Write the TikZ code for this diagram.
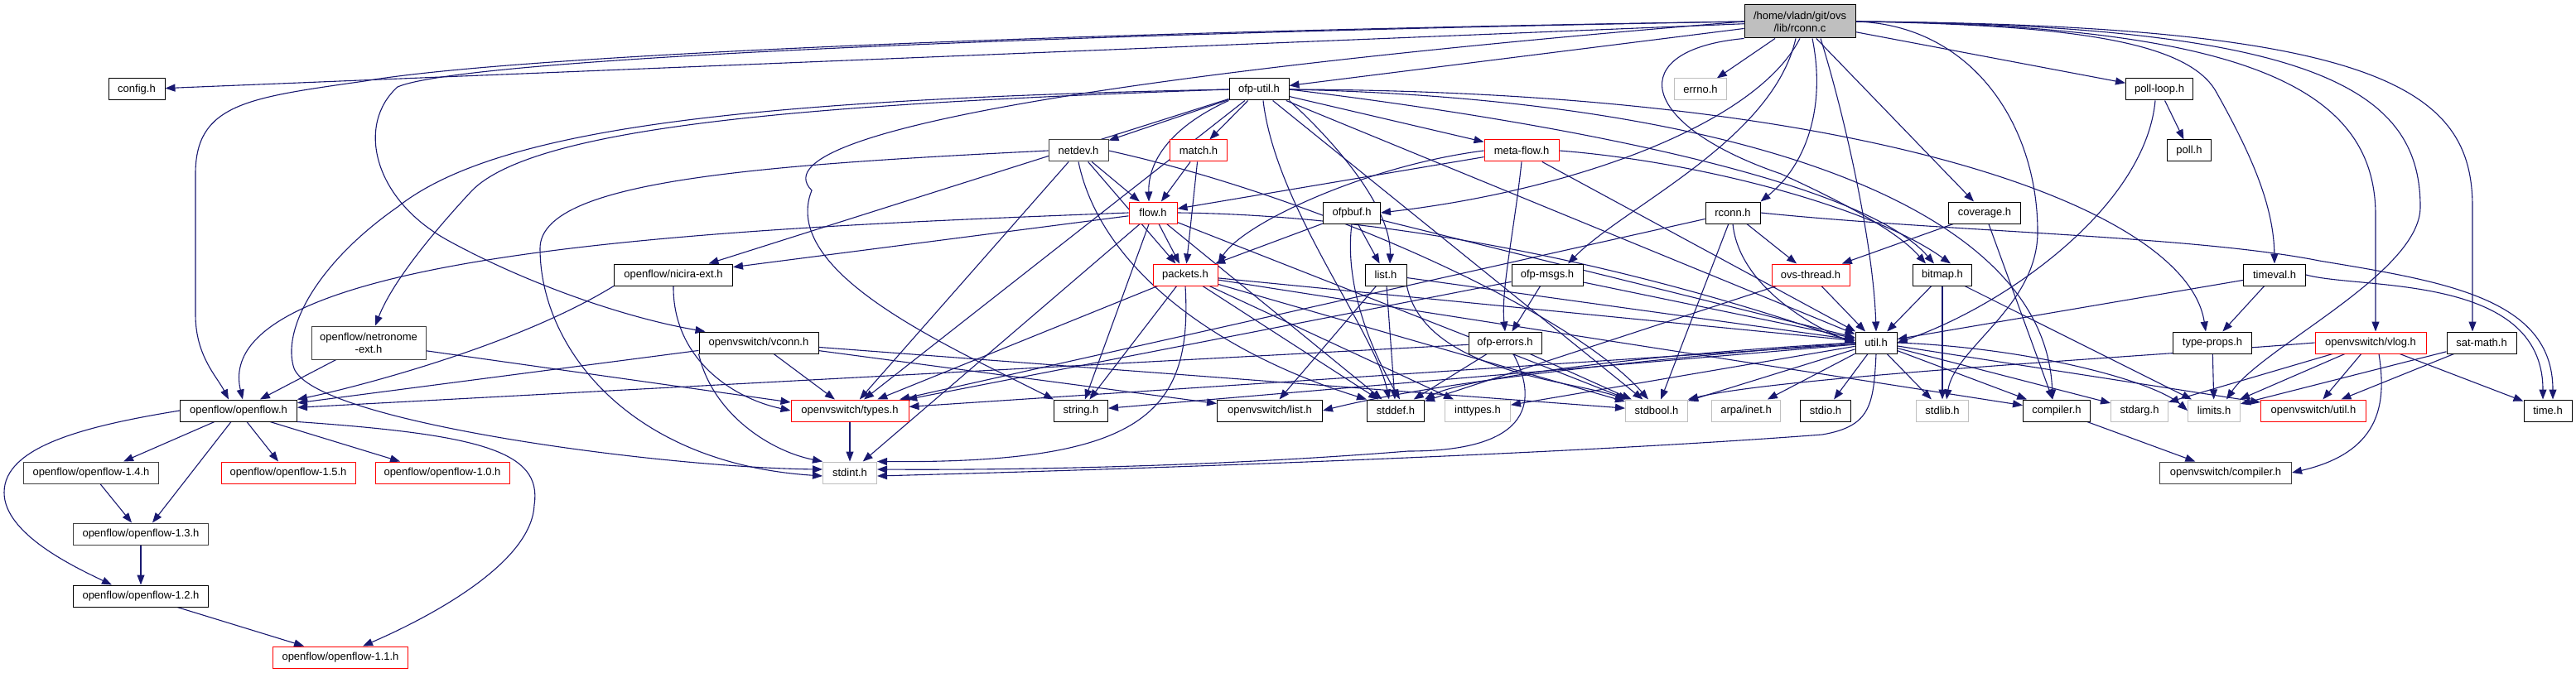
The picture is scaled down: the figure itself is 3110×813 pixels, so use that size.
\documentclass[tikz,border=0pt]{standalone}
\usepackage{fontspec}
\setmainfont{Liberation Sans}
\usetikzlibrary{arrows.meta}
\definecolor{edgec}{HTML}{191970}
\definecolor{graybd}{HTML}{BFBFBF}
\definecolor{darkbd}{HTML}{404040}
\definecolor{rootfill}{HTML}{BFBFBF}
\pgfdeclarelayer{edgelayer}
\pgfsetlayers{edgelayer,main}
\newcommand\nodefont{\fontsize{13}{15}\selectfont}
\tikzset{
 hbase/.style={rectangle, line width=1.0pt, fill=white, minimum height=26pt, inner sep=0pt, font=\nodefont, align=center, text=black},
 hb/.style={hbase, draw=black},
 hg/.style={hbase, draw=graybd},
 hr/.style={hbase, draw=red},
 hd/.style={hbase, draw=darkbd},
 mw/.style={minimum width=#1pt},
 dep/.style={draw=edgec, line width=1.1pt, -{Triangle[length=12pt,width=9pt]}},
}
\begin{document}
\begin{tikzpicture}[x=1pt,y=-1pt]
\useasboundingbox (0,0) rectangle (3110,813);
% nodes
\node[hb, fill=rootfill, mw=134, minimum height=40pt] (root) at (2173,26) {/home/vladn/git/ovs\\/lib/rconn.c};
\node[hb, mw=68] (config) at (165,108) {config.h};
\node[hb, mw=72] (ofputil) at (1520,108) {ofp-util.h};
\node[hg, mw=63] (errno) at (2053,108) {errno.h};
\node[hb, mw=81] (pollloop) at (2607,108) {poll-loop.h};
\node[hd, mw=72] (netdev) at (1302,182) {netdev.h};
\node[hr, mw=69] (match) at (1447,182) {match.h};
\node[hr, mw=90] (metaflow) at (1837,182) {meta-flow.h};
\node[hb, mw=53] (poll) at (2643,182) {poll.h};
\node[hr, mw=58] (flow) at (1392,257) {flow.h};
\node[hb, mw=69] (ofpbuf) at (1632,257) {ofpbuf.h};
\node[hb, mw=66] (rconnh) at (2092,257) {rconn.h};
\node[hb, mw=87] (coverage) at (2396,257) {coverage.h};
\node[hb, mw=143] (nicira) at (813,332) {openflow/nicira-ext.h};
\node[hr, mw=78] (packets) at (1431,332) {packets.h};
\node[hb, mw=50] (list) at (1673,332) {list.h};
\node[hb, mw=86] (ofpmsgs) at (1868,332) {ofp-msgs.h};
\node[hr, mw=94] (ovsthread) at (2186,332) {ovs-thread.h};
\node[hb, mw=71] (bitmap) at (2345,332) {bitmap.h};
\node[hb, mw=75] (timeval) at (2746,332) {timeval.h};
\node[hd, mw=138, minimum height=40pt] (netronome) at (445,414) {openflow/netronome\\-ext.h};
\node[hb, mw=144] (vconn) at (916,414) {openvswitch/vconn.h};
\node[hb, mw=88] (ofperrors) at (1817,414) {ofp-errors.h};
\node[hb, mw=50] (util) at (2265,414) {util.h};
\node[hb, mw=95] (typeprops) at (2671,414) {type-props.h};
\node[hr, mw=134] (vlog) at (2862,414) {openvswitch/vlog.h};
\node[hb, mw=84] (satmath) at (2996,414) {sat-math.h};
\node[hb, mw=141] (openflow) at (288,496) {openflow/openflow.h};
\node[hr, mw=142] (types) at (1026,496) {openvswitch/types.h};
\node[hb, mw=65] (string) at (1305,496) {string.h};
\node[hb, mw=127] (ovslist) at (1533,496) {openvswitch/list.h};
\node[hb, mw=69] (stddef) at (1685,496) {stddef.h};
\node[hg, mw=79] (inttypes) at (1784,496) {inttypes.h};
\node[hg, mw=75] (stdbool) at (2000,496) {stdbool.h};
\node[hg, mw=83] (arpa) at (2108,496) {arpa/inet.h};
\node[hb, mw=61] (stdio) at (2204,496) {stdio.h};
\node[hg, mw=63] (stdlib) at (2345,496) {stdlib.h};
\node[hb, mw=81] (compiler) at (2483,496) {compiler.h};
\node[hg, mw=69] (stdarg) at (2583,496) {stdarg.h};
\node[hg, mw=63] (limits) at (2673,496) {limits.h};
\node[hr, mw=127] (ovsutil) at (2793,496) {openvswitch/util.h};
\node[hb, mw=58] (time) at (3076,496) {time.h};
\node[hd, mw=163] (of14) at (110,571) {openflow/openflow-1.4.h};
\node[hr, mw=162] (of15) at (348,571) {openflow/openflow-1.5.h};
\node[hr, mw=162] (of10) at (534,571) {openflow/openflow-1.0.h};
\node[hg, mw=65] (stdint) at (1026,571) {stdint.h};
\node[hd, mw=159] (ovscompiler) at (2687,571) {openvswitch/compiler.h};
\node[hd, mw=163] (of13) at (170,645) {openflow/openflow-1.3.h};
\node[hb, mw=163] (of12) at (170,720) {openflow/openflow-1.2.h};
\node[hr, mw=163] (of11) at (411,794) {openflow/openflow-1.1.h};

\begin{pgfonlayer}{edgelayer}
% root
\draw[dep] (root) -- (config);
\draw[dep] (root) -- (ofputil);
\draw[dep] (root) -- (errno);
\draw[dep] (root) -- (pollloop);
\draw[dep] (root) -- (coverage);
\draw[dep] (root.west) .. controls (1200,40) and (600,70) .. (440,98) .. controls (300,118) and (236,125) .. (236,210) -- (236,380) .. controls (236,430) and (262,455) .. ([xshift=-12pt]openflow.north);
\draw[dep] (root.west) .. controls (1300,40) and (560,70) .. (480,105) .. controls (430,150) and (450,240) .. (540,290) .. controls (640,345) and (760,385) .. ([xshift=8pt]vconn.north west);
\draw[dep] (root.west) .. controls (1500,75) and (900,150) .. (980,230) .. controls (940,330) and (1150,420) .. (string.north west);
\draw[dep] (root.south) .. controls (2120,150) and (1900,230) .. (ofpbuf.east);
\draw[dep] ([xshift=-5pt]root.south) .. controls (2140,170) and (1960,250) .. ([xshift=25pt]ofpmsgs.north);
\draw[dep] ([xshift=15pt]root.south) .. controls (2205,130) and (2180,200) .. (rconnh.north east);
\draw[dep] ([xshift=25pt]root.south) .. controls (2230,150) and (2262,300) .. (util.north);
\draw[dep] (root.south west) .. controls (1960,60) and (1975,150) .. (2150,210) .. controls (2260,260) and (2300,290) .. ([xshift=-20pt]bitmap.north);
\draw[dep] (root.east) .. controls (2500,30) and (2640,50) .. (2675,110) .. controls (2720,190) and (2745,250) .. (timeval.north);
\draw[dep] (root.east) .. controls (2720,30) and (2868,110) .. (2868,260) -- ([xshift=6pt]vlog.north);
\draw[dep] (root.east) .. controls (2800,30) and (2922,110) .. (2922,250) .. controls (2922,330) and (2730,420) .. ([xshift=15pt]limits.north);
\draw[dep] (root.east) .. controls (2880,30) and (2985,110) .. (2985,250) -- ([xshift=-11pt]satmath.north);
\draw[dep] (root.east) .. controls (2380,30) and (2460,150) .. (2460,280) .. controls (2460,370) and (2360,420) .. ([xshift=5pt]stdlib.north);
% poll-loop
\draw[dep] (pollloop) -- (poll);
\draw[dep] ([xshift=-5pt]pollloop.south) .. controls (2590,250) and (2420,370) .. (util.east);
% ofp-util
\draw[dep] (ofputil) -- (netdev);
\draw[dep] (ofputil) -- (match);
\draw[dep] (ofputil) -- (metaflow);
\draw[dep] (ofputil) -- (nicira);
\draw[dep] (ofputil) -- (types);
\draw[dep] (ofputil) -- (stdbool);
\draw[dep] (ofputil) -- (util);
\draw[dep] (ofputil.south west) .. controls (1420,150) and (1386,190) .. ([xshift=-5pt]flow.north);
\draw[dep] (ofputil.south east) .. controls (1610,170) and (1680,250) .. ([xshift=5pt]list.north);
\draw[dep] ([xshift=5pt]ofputil.south) .. controls (1540,250) and (1660,400) .. ([xshift=-8pt]stddef.north);
\draw[dep] (ofputil.east) .. controls (1900,150) and (2250,220) .. ([xshift=-10pt]bitmap.north);
\draw[dep] (ofputil.east) .. controls (2100,120) and (2470,250) .. ([xshift=-5pt]compiler.north);
\draw[dep] (ofputil.east) .. controls (2250,110) and (2640,250) .. ([xshift=-8pt]typeprops.north);
\draw[dep] (ofputil.west) .. controls (1000,125) and (650,150) .. (570,230) .. controls (505,300) and (470,350) .. ([xshift=8pt]netronome.north);
\draw[dep] (ofputil.west) .. controls (900,120) and (600,155) .. (480,250) .. controls (380,320) and (340,400) .. (355,445) .. controls (380,510) and (800,565) .. ([yshift=4pt]stdint.west);
% netdev
\draw[dep] (netdev) -- (flow);
\draw[dep] (netdev) -- (packets);
\draw[dep] (netdev) -- (types);
\draw[dep] (netdev.south) .. controls (1330,330) and (1480,430) .. (stddef.north west);
\draw[dep] (netdev.east) .. controls (1600,240) and (1900,380) .. ([xshift=-10pt]stdbool.north);
\draw[dep] (netdev.west) .. controls (900,200) and (652,220) .. (652,300) .. controls (652,420) and (760,560) .. ([yshift=-4pt]stdint.west);
% match
\draw[dep] (match) -- (flow);
\draw[dep] (match) -- (packets);
% meta-flow
\draw[dep] (metaflow) -- (flow);
\draw[dep] (metaflow.west) .. controls (1650,200) and (1500,270) .. (packets.north east);
\draw[dep] (metaflow.south) .. controls (1828,280) and (1812,350) .. (ofperrors.north);
\draw[dep] (metaflow) -- (util);
\draw[dep] (metaflow.east) .. controls (2050,195) and (2260,250) .. ([xshift=10pt]bitmap.north);
% flow
\draw[dep] (flow.west) .. controls (900,275) and (250,300) .. ([xshift=5pt]openflow.north);
\draw[dep] (flow) -- (nicira);
\draw[dep] (flow) -- (packets);
\draw[dep] (flow) -- (string);
\draw[dep] (flow) -- (stdint);
\draw[dep] (flow) -- (stddef);
\draw[dep] (flow) -- (stdbool);
\draw[dep] (flow.east) .. controls (1700,260) and (2000,330) .. (util.west);
% ofpbuf
\draw[dep] (ofpbuf) -- (list);
\draw[dep] (ofpbuf) -- (packets);
\draw[dep] (ofpbuf.south) .. controls (1622,350) and (1660,430) .. ([xshift=5pt]stddef.north);
\draw[dep] (ofpbuf) -- (util);
% rconn.h
\draw[dep] (rconnh) -- (ovsthread);
\draw[dep] (rconnh) -- (stdbool);
\draw[dep] (rconnh) -- (types);
\draw[dep] (rconnh.south) .. controls (2100,350) and (2200,400) .. (util.west);
\draw[dep] (rconnh.east) .. controls (2350,280) and (2650,285) .. (2800,315) .. controls (2950,340) and (3082,360) .. ([xshift=6pt]time.north);
% coverage
\draw[dep] (coverage) -- (ovsthread);
\draw[dep] (coverage) -- (compiler);
% nicira
\draw[dep] (nicira.south west) .. controls (620,420) and (420,470) .. (openflow.north east);
\draw[dep] (nicira.south) .. controls (812,430) and (880,480) .. (types.west);
% packets
\draw[dep] (packets) -- (types);
\draw[dep] (packets) -- (string);
\draw[dep] (packets) -- (inttypes);
\draw[dep] (packets) -- (stddef);
\draw[dep] (packets) -- (stdbool);
\draw[dep] (packets) -- (util);
\draw[dep] (packets) -- (compiler);
\draw[dep] (packets.south) .. controls (1440,500) and (1380,560) .. (stdint.north east);
% list
\draw[dep] (list) -- (ovslist);
\draw[dep] (list) -- (stddef);
\draw[dep] (list.south east) .. controls (1720,450) and (1900,460) .. (stdbool.north west);
\draw[dep] (list) -- (util);
% ofp-msgs
\draw[dep] (ofpmsgs) -- (ofperrors);
\draw[dep] (ofpmsgs) -- (util);
\draw[dep] (ofpmsgs) -- (types);
% ovs-thread
\draw[dep] (ovsthread) -- (util);
\draw[dep] (ovsthread) -- (stddef);
% bitmap
\draw[dep] (bitmap) -- (stdlib);
\draw[dep] (bitmap) -- (util);
\draw[dep] (bitmap) -- (limits);
% timeval
\draw[dep] (timeval) -- (typeprops);
\draw[dep] (timeval) -- (util);
\draw[dep] (timeval.east) .. controls (2850,350) and (3070,330) .. ([xshift=-6pt]time.north);
% netronome
\draw[dep] (netronome) -- (openflow);
\draw[dep] (netronome) -- (types);
% vconn
\draw[dep] (vconn) -- (openflow);
\draw[dep] (vconn) -- (types);
\draw[dep] (vconn) -- (ovslist);
\draw[dep] (vconn) -- (stdbool);
\draw[dep] (vconn.south west) .. controls (860,500) and (930,545) .. (stdint.north west);
% ofp-errors
\draw[dep] (ofperrors) -- (openflow);
\draw[dep] (ofperrors) -- (stddef);
\draw[dep] (ofperrors) -- (stdbool);
\draw[dep] ([xshift=10pt]ofperrors.south) .. controls (1855,480) and (1855,545) .. (1700,545) .. controls (1450,565) and (1200,568) .. ([yshift=4pt]stdint.east);
% util
\draw[dep] (util) -- (types);
\draw[dep] (util) -- (string);
\draw[dep] (util.west) .. controls (1900,440) and (1700,470) .. (ovslist.east);
\draw[dep] (util.west) .. controls (1950,430) and (1760,460) .. (stddef.north east);
\draw[dep] (util) -- (inttypes);
\draw[dep] (util) -- (stdbool);
\draw[dep] (util) -- (arpa);
\draw[dep] (util) -- (stdio);
\draw[dep] (util) -- (stdlib);
\draw[dep] (util) -- (compiler);
\draw[dep] (util) -- (stdarg);
\draw[dep] (util.east) .. controls (2450,420) and (2600,460) .. (limits.west);
\draw[dep] (util) -- (ovsutil);
\draw[dep] (util.south) .. controls (2262,490) and (2258,515) .. (2200,525) .. controls (1900,548) and (1400,566) .. ([yshift=-4pt]stdint.east);
% types, compiler
\draw[dep] (types) -- (stdint);
\draw[dep] (compiler) -- (ovscompiler);
% vlog
\draw[dep] (vlog.west) .. controls (2600,430) and (2150,455) .. (stdbool.north east);
\draw[dep] (vlog) -- (stdarg);
\draw[dep] (vlog) -- (limits);
\draw[dep] (vlog) -- (ovsutil);
\draw[dep] (vlog) -- (time);
\draw[dep] ([xshift=10pt]vlog.south) .. controls (2880,480) and (2880,545) .. (ovscompiler.east);
% sat-math, type-props
\draw[dep] (satmath) -- (limits);
\draw[dep] (satmath) -- (ovsutil);
\draw[dep] (typeprops) -- (limits);
% openflow
\draw[dep] ([xshift=-29pt]openflow.south) -- ([xshift=39pt]of14.north);
\draw[dep] ([xshift=-9pt]openflow.south) -- ([xshift=14pt]of13.north);
\draw[dep] ([xshift=10pt]openflow.south) -- ([xshift=-12pt]of15.north);
\draw[dep] ([xshift=38pt]openflow.south) -- ([xshift=-51pt]of10.north);
\draw[dep] (openflow.south east) .. controls (580,525) and (655,545) .. (645,610) .. controls (642,680) and (520,745) .. ([xshift=27pt]of11.north);
\draw[dep] (openflow.west) .. controls (100,515) and (5,540) .. (5,595) .. controls (5,645) and (90,685) .. ([xshift=-35pt]of12.north);
\draw[dep] (of14) -- (of13);
\draw[dep] (of13) -- (of12);
\draw[dep] (of12) -- (of11);
\end{pgfonlayer}
\end{tikzpicture}
\end{document}
